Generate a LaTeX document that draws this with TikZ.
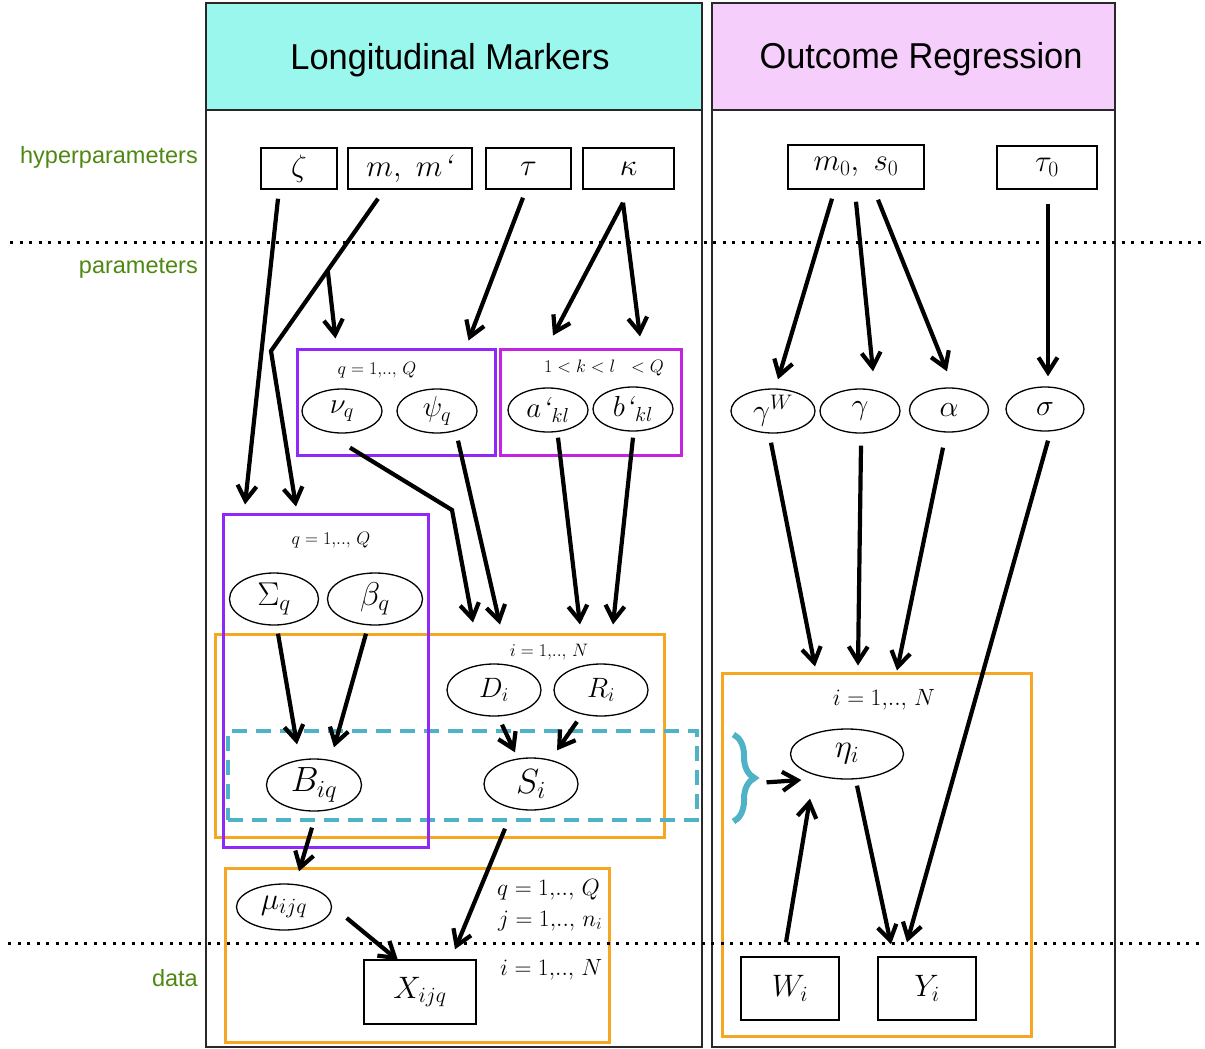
\RequirePackage{fix-cm}
\documentclass[tikz,border=0pt]{standalone}
\usepackage{amsmath}
\usepackage{fontspec}
\setsansfont{Liberation Sans}
\usetikzlibrary{arrows.meta,decorations.pathreplacing,shapes.geometric,calc}

\definecolor{hdrcyan}{RGB}{153,247,238}
\definecolor{hdrpink}{RGB}{245,206,252}
\definecolor{plateorange}{RGB}{245,166,35}
\definecolor{platepurple}{RGB}{144,40,250}
\definecolor{platemagenta}{RGB}{196,36,226}
\definecolor{linkteal}{RGB}{80,178,198}
\definecolor{levelgreen}{RGB}{78,136,18}
\definecolor{framegray}{RGB}{40,40,40}

\newcommand{\fsz}[1]{\fontsize{#1}{#1}\selectfont}
\newcommand{\hdrtext}[1]{\scalebox{0.955}[1]{\sffamily\fsz{36}#1}}

\begin{document}
\begin{tikzpicture}[x=1pt,y=-1pt,
  hyper/.style={draw, line width=1.4pt, rectangle, inner sep=0pt, font=\fsz{31}},
  obs/.style={draw, line width=1.4pt, rectangle, inner sep=0pt, font=\fsz{31}},
  par/.style={draw, line width=1.3pt, ellipse, inner sep=0pt, font=\fsz{29}},
  plate/.style={draw, line width=3pt, rectangle, inner sep=0pt},
  column/.style={draw=framegray, line width=1.5pt, rectangle, inner sep=0pt},
  arr/.style={line width=4.2pt, -{Straight Barb[length=15pt,width=19pt]}},
  idx/.style={inner sep=0pt, font=\fsz{18}},
  idxbig/.style={inner sep=0pt, font=\fsz{23.5}},
  level/.style={anchor=east, inner sep=0pt, text=levelgreen, font=\sffamily\fsz{23.5}},
  layerline/.style={line width=3pt, dash pattern=on 3pt off 6.5pt},
]
\useasboundingbox (0,0) rectangle (1205,1049);

% ---------- columns and headers ----------
\node[column, minimum width=496pt, minimum height=1044pt] (colL) at (454,525) {};
\node[column, minimum width=403pt, minimum height=1044pt] (colR) at (913.5,525) {};
\node[column, fill=hdrcyan, line width=2pt, minimum width=496pt, minimum height=107pt] (hdrL) at (454,56.5) {};
\node[column, fill=hdrpink, line width=2pt, minimum width=403pt, minimum height=107pt] (hdrR) at (913.5,56.5) {};
\node[inner sep=0pt] (hdrLtxt) at (450,60) {\hdrtext{Longitudinal Markers}};
\node[inner sep=0pt] (hdrRtxt) at (921,59) {\hdrtext{Outcome Regression}};

% ---------- level labels ----------
\node[level] (lvHyper) at (198,157) {hyperparameters};
\node[level] (lvPar) at (198,268) {parameters};
\node[level] (lvData) at (198,978) {data};

% ---------- plates ----------
\node[plate, draw=plateorange, minimum width=449pt, minimum height=203pt] (pI) at (439.5,735.5) {};
\node[plate, draw=plateorange, minimum width=384pt, minimum height=174pt] (pData) at (417,955) {};
\node[plate, draw=plateorange, minimum width=309pt, minimum height=363pt] (pEta) at (876.5,854.5) {};
\node[draw=linkteal, line width=4pt, dash pattern=on 15pt off 9pt, rectangle, inner sep=0pt,
      minimum width=469pt, minimum height=89pt] (pLink) at (462.5,775.5) {};
\node[plate, draw=platepurple, minimum width=198pt, minimum height=106pt] (pNuPsi) at (396,402) {};
\node[plate, draw=platemagenta, minimum width=181pt, minimum height=106pt] (pAB) at (590.5,402) {};
\node[plate, draw=platepurple, minimum width=205pt, minimum height=333pt] (pSB) at (325.5,680.5) {};

% ---------- plate indices ----------
\node[idx] (lblNuPsi) at (377,370) {$q = 1{,}..{,}\ Q$};
\node[idx] (lblAB) at (604,368) {$1 < k < l\ \ < Q$};
\node[idx] (lblSB) at (331,540) {$q = 1{,}..{,}\ Q$};
\node[idx] (lblI) at (549,652) {$i = 1{,}..{,}\ N$};
\node[idxbig, anchor=west] (lblQ) at (497,890) {$q = 1{,}..{,}\ Q$};
\node[idxbig, anchor=west] (lblJ) at (498,921) {$j = 1{,}..{,}\ n_i$};
\node[idxbig, anchor=west] (lblN) at (500,970) {$i = 1{,}..{,}\ N$};
\node[idxbig] (lblEta) at (884,700) {$i = 1{,}..{,}\ N$};

% ---------- hyperparameters ----------
\node[hyper, minimum width=76pt, minimum height=41pt] (zeta) at (299,168.5) {$\zeta$};
\node[hyper, minimum width=124pt, minimum height=41pt] (mm) at (410,168.5) {$m,\ m$\textit{‘}};
\node[hyper, minimum width=85pt, minimum height=41pt] (tau) at (528.5,168.5) {$\tau$};
\node[hyper, minimum width=91pt, minimum height=41pt] (kappa) at (628.5,168.5) {$\kappa$};
\node[hyper, minimum width=136pt, minimum height=44pt] (ms0) at (856,167) {$m_0,\ s_0$};
\node[hyper, minimum width=100pt, minimum height=43pt] (tau0) at (1047,167.5) {$\tau_0$};

% ---------- parameters ----------
\node[par, minimum width=80pt, minimum height=44pt] (nu) at (342,411) {$\nu_q$};
\node[par, minimum width=80pt, minimum height=44pt] (psi) at (437,411) {$\psi_q$};
\node[par, minimum width=80pt, minimum height=44pt] (aprime) at (548,410) {$a$\textit{‘}$_{kl}$};
\node[par, minimum width=80pt, minimum height=44pt] (bprime) at (633,409) {$b$\textit{‘}$_{kl}$};
\node[par, font=\fsz{30}, minimum width=84pt, minimum height=44pt] (gW) at (773,411) {$\gamma^W$};
\node[par, font=\fsz{30}, minimum width=80pt, minimum height=44pt] (gam) at (860,411) {$\gamma$};
\node[par, font=\fsz{30}, minimum width=79pt, minimum height=44pt] (alpha) at (949,410) {$\alpha$};
\node[par, font=\fsz{30}, minimum width=78pt, minimum height=44pt] (sigma) at (1045,409) {$\sigma$};

\node[par, font=\fsz{33}, minimum width=89pt, minimum height=52pt] (Sigma) at (274,599) {$\Sigma_q$};
\node[par, font=\fsz{33}, minimum width=95pt, minimum height=52pt] (beta) at (375,599) {$\beta_q$};
\node[par, font=\fsz{28}, minimum width=94pt, minimum height=52pt] (D) at (494,690) {$D_i$};
\node[par, font=\fsz{28}, minimum width=94pt, minimum height=52pt] (R) at (601,690) {$R_i$};
\node[par, font=\fsz{35}, minimum width=95pt, minimum height=52pt] (B) at (314,785) {$B_{iq}$};
\node[par, font=\fsz{35}, minimum width=94pt, minimum height=52pt] (S) at (531,784) {$S_i$};
\node[par, font=\fsz{31}, minimum width=95pt, minimum height=46pt] (mu) at (284,907) {$\mu_{ijq}$};
\node[par, font=\fsz{33}, minimum width=113pt, minimum height=50pt] (eta) at (847,754) {$\eta_i$};

% ---------- data ----------
\node[obs, minimum width=112pt, minimum height=64pt] (X) at (420,992) {$X_{ijq}$};
\node[obs, minimum width=98pt, minimum height=63pt] (W) at (790,988.5) {$W_i$};
\node[obs, minimum width=98pt, minimum height=63pt] (Y) at (927,988.5) {$Y_i$};

% ---------- level separators ----------
\draw[layerline] (10,242) coordinate (sepTopL) -- (1205,242) coordinate (sepTopR);
\draw[layerline] (8,943) coordinate (sepBotL) -- (1205,943) coordinate (sepBotR);

% ---------- bracket joining the shared latent terms ----------
\coordinate (braceTop) at ($(pEta.north west)+(13,63)$);
\coordinate (braceBot) at ($(pEta.north west)+(13,150)$);
\draw[linkteal, line width=6pt, decorate, decoration={brace, amplitude=21pt, aspect=0.5}]
  (braceTop) -- (braceBot);

% ---------- connector end points ----------
\coordinate (zetaOut) at ($(zeta.south)+(-21,9)$);
\coordinate (sbInZ) at ($(pSB.north)+(-80.5,-8)$);
\coordinate (mmOut) at ($(mm.south)+(-32,9)$);
\coordinate (mmBend) at (271,351);
\coordinate (mmSplit) at ($(mmOut)!0.47!(mmBend)$);
\coordinate (sbInM) at ($(pSB.north)+(-29.5,-6)$);
\coordinate (nuPsiInM) at ($(pNuPsi.north west)+(40,-9)$);
\coordinate (tauOut) at ($(tau.south)+(-5.5,8)$);
\coordinate (nuPsiInT) at ($(pNuPsi.north east)+(-28,-7)$);
\coordinate (kappaOut) at ($(kappa.south)+(-5.5,13)$);
\coordinate (abInA) at ($(pAB.north)+(-37.5,-12)$);
\coordinate (abInB) at ($(pAB.north)+(49.5,-11)$);

\coordinate (nuOut) at ($(nu.south)+(8,14)$);
\coordinate (nuBend) at (452,510);
\coordinate (iInNu) at ($(pI.north)+(33.5,-10)$);
\coordinate (psiOut) at ($(psi.south)+(21,7)$);
\coordinate (iInPsi) at ($(pI.north)+(60.5,-8)$);
\coordinate (aOut) at ($(aprime.south)+(10,5)$);
\coordinate (iInA) at ($(pI.north)+(140.5,-8)$);
\coordinate (bOut) at ($(bprime.south)+(0,6)$);
\coordinate (iInB) at ($(pI.north)+(173.5,-8)$);

\coordinate (SigmaOut) at ($(Sigma.south)+(4,8)$);
\coordinate (BInSigma) at ($(B.north)+(-17,-14)$);
\coordinate (betaOut) at ($(beta.south)+(-9,8)$);
\coordinate (BInBeta) at ($(B.north)+(20,-11)$);
\coordinate (DOut) at ($(D.south)+(8,8)$);
\coordinate (SInD) at ($(S.north)+(-16,-5)$);
\coordinate (ROut) at ($(R.south)+(-24,5)$);
\coordinate (SInR) at ($(S.north)+(26,-7)$);
\coordinate (BOut) at ($(B.south)+(-2,16)$);
\coordinate (muInB) at ($(mu.north)+(15,-12)$);
\coordinate (SOut) at ($(S.south)+(-26,18)$);
\coordinate (XInS) at ($(X.north)+(35,-10)$);
\coordinate (muOut) at ($(mu.east)+(14.5,11)$);
\coordinate (XInMu) at ($(X.north)+(-22,1)$);

\coordinate (msOutW) at ($(ms0.south)+(-24,9)$);
\coordinate (msOutG) at ($(ms0.south)+(0,12)$);
\coordinate (msOutA) at ($(ms0.south)+(22,10)$);
\coordinate (gWIn) at ($(gW.north)+(5,-9)$);
\coordinate (gamIn) at ($(gam.north)+(13,-17)$);
\coordinate (alphaIn) at ($(alpha.north)+(-2,-16)$);
\coordinate (tau0Out) at ($(tau0.south)+(1,14)$);
\coordinate (sigmaIn) at ($(sigma.north)+(3,-10)$);
\coordinate (gWOut) at ($(gW.south)+(-2,9)$);
\coordinate (etaInW) at ($(pEta.north)+(-61.5,-5)$);
\coordinate (gamOut) at ($(gam.south)+(1,12)$);
\coordinate (etaInG) at ($(pEta.north)+(-18.5,-6)$);
\coordinate (alphaOut) at ($(alpha.south)+(-6,15)$);
\coordinate (etaInA) at ($(pEta.north)+(20.5,-1)$);
\coordinate (sigmaOut) at ($(sigma.south)+(3,9)$);
\coordinate (YInSigma) at ($(Y.north)+(-20,-14)$);
\coordinate (etaOut) at ($(eta.south)+(10,6)$);
\coordinate (YInEta) at ($(Y.north)+(-36,-12)$);
\coordinate (WOut) at ($(W.north)+(-4,-14)$);
\coordinate (etaInWi) at ($(eta.south)+(-37,19)$);
\coordinate (braceOut) at ($(braceTop)!0.55!(braceBot)+(33,0)$);
\coordinate (etaInBrace) at ($(eta.west)+(11.5,26)$);

% ---------- connectors ----------
\draw[arr] (zetaOut) -- (sbInZ);
\draw[arr] (mmOut) -- (mmBend) -- (sbInM);
\draw[arr] (mmSplit) -- (nuPsiInM);
\draw[arr] (tauOut) -- (nuPsiInT);
\draw[arr] (kappaOut) -- (abInA);
\draw[arr] (kappaOut) -- (abInB);

\draw[arr] (nuOut) -- (nuBend) -- (iInNu);
\draw[arr] (psiOut) -- (iInPsi);
\draw[arr] (aOut) -- (iInA);
\draw[arr] (bOut) -- (iInB);

\draw[arr] (SigmaOut) -- (BInSigma);
\draw[arr] (betaOut) -- (BInBeta);
\draw[arr] (DOut) -- (SInD);
\draw[arr] (ROut) -- (SInR);
\draw[arr] (BOut) -- (muInB);
\draw[arr] (SOut) -- (XInS);
\draw[arr] (muOut) -- (XInMu);

\draw[arr] (msOutW) -- (gWIn);
\draw[arr] (msOutG) -- (gamIn);
\draw[arr] (msOutA) -- (alphaIn);
\draw[arr] (tau0Out) -- (sigmaIn);
\draw[arr] (gWOut) -- (etaInW);
\draw[arr] (gamOut) -- (etaInG);
\draw[arr] (alphaOut) -- (etaInA);
\draw[arr] (sigmaOut) -- (YInSigma);
\draw[arr] (etaOut) -- (YInEta);
\draw[arr] (WOut) -- (etaInWi);
\draw[arr] (braceOut) -- (etaInBrace);
\end{tikzpicture}
\end{document}
